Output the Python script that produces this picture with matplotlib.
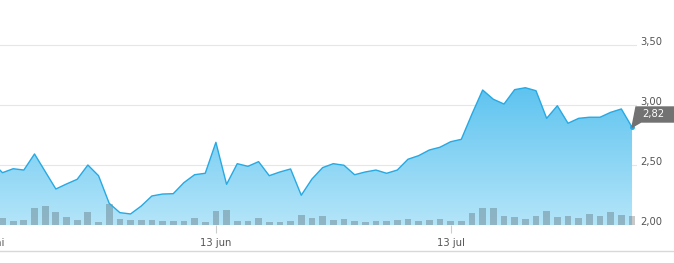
import numpy as np
import matplotlib
matplotlib.use("Agg")
import matplotlib.pyplot as plt
from matplotlib.patches import Polygon
from matplotlib.lines import Line2D

# closing price per trading day (first point lies just left of the view)
price = [2.525, 2.436, 2.469, 2.458, 2.592, 2.446, 2.300, 2.342, 2.381, 2.500, 2.411,
         2.181, 2.103, 2.092, 2.158, 2.242, 2.258, 2.261, 2.353, 2.419, 2.431,
         2.689, 2.339, 2.511, 2.489, 2.528, 2.411, 2.442, 2.467, 2.248, 2.383,
         2.478, 2.511, 2.498, 2.419, 2.442, 2.458, 2.431, 2.458, 2.548, 2.578,
         2.625, 2.648, 2.694, 2.714, 2.925, 3.125, 3.048, 3.008, 3.128, 3.144,
         3.119, 2.889, 2.994, 2.848, 2.889, 2.898, 2.898, 2.939, 2.967, 2.815]

# traded volume (relative units)
volume = [50, 67, 40, 50, 170, 187, 130, 80, 50, 130, 30,
          207, 60, 50, 50, 50, 40, 40, 40, 70, 30,
          140, 150, 40, 40, 70, 30, 30, 40, 100, 70,
          90, 50, 60, 40, 30, 40, 40, 50, 60, 40,
          50, 60, 40, 40, 120, 167, 167, 87, 77, 57,
          87, 137, 77, 87, 67, 107, 87, 127, 97, 87]

tick_pos = [-1.4, 20, 42]
tick_labels = ["13 mai", "13 jun", "13 jul"]
y_ticks = [2.0, 2.5, 3.0, 3.5]
y_labels = ["2,00", "2,50", "3,00", "3,50"]
last_label = "2,82"

x = np.arange(len(price)) - 1
price = np.array(price)
volume = np.array(volume)

W, H = 674, 263
fig = plt.figure(figsize=(W / 100, H / 100), dpi=100)
ax = fig.add_axes([0, (H - 225) / H, 637 / W, 225 / H])
step = 10.67
ax.set_xlim(-2.5 / step, 634.5 / step)
ax.set_ylim(2.0, 3.875)
for s in ax.spines.values():
    s.set_visible(False)

for v in y_ticks:
    ax.axhline(v, color="#e6e6e6", lw=0.8, zorder=0)

# gradient area under the line
grad = np.linspace(0, 1, 256).reshape(-1, 1)
top = np.array([0x5a, 0xc2, 0xef]) / 255
bot = np.array([0xb4, 0xe5, 0xf9]) / 255
img = top * (1 - grad[..., None]) + bot * grad[..., None]
im = ax.imshow(img, extent=[x[0], x[-1], 2.0, 3.2], aspect="auto", zorder=1)
verts = np.vstack([np.column_stack([x, price]), [[x[-1], 2.0], [x[0], 2.0]]])
clip = Polygon(verts, closed=True, transform=ax.transData)
im.set_clip_path(clip)

# volume bars
vol_h = volume / volume.max() * (20.7 / 120)
ax.bar(x, vol_h, width=0.63, bottom=2.0, color="#2a2a2a", alpha=0.25, zorder=2)

ax.plot(x, price, color="#27a9e3", lw=1.0, zorder=3)
ax.plot(x[-1], price[-1], "o", color="#27a9e3", ms=2.5, zorder=4)

# x ticks
ax.set_xticks(tick_pos[1:])
ax.set_xticklabels(tick_labels[1:], fontsize=7.2, color="#555555")
ax.tick_params(axis="x", length=6, color="#cccccc", pad=3)
ax.set_yticks([])
ax.text(tick_pos[0], 2.0 - 17.5 / 120, tick_labels[0], fontsize=7.2, color="#555555",
        ha="center", va="center", clip_on=False)

# right side labels
for v, lab in zip(y_ticks, y_labels):
    ax.text(640.5 / 637, v + 3.5 / 120, lab, transform=ax.get_yaxis_transform(),
            fontsize=7.2, color="#555555", ha="left", va="center", clip_on=False)

# last price flag
def px(xp, yp):
    return ((xp - 2.5) / step - 1 + 1, 2.0 + (225 - yp) / 120)

flag = Polygon([(x[-1], price[-1]), px(636, 107), px(676, 107), px(676, 122), px(641, 122)],
               closed=True, color="#727272", clip_on=False, zorder=5)
ax.add_patch(flag)
fx, fy = px(653, 114.5)
ax.text(fx, fy, last_label, color="white", fontsize=7.2, ha="center", va="center",
        clip_on=False, zorder=6)

fig.add_artist(Line2D([0, 1], [(H - 251) / H] * 2, color="#d8d8d8", lw=1.0))

fig.savefig("out.png", dpi=100)
